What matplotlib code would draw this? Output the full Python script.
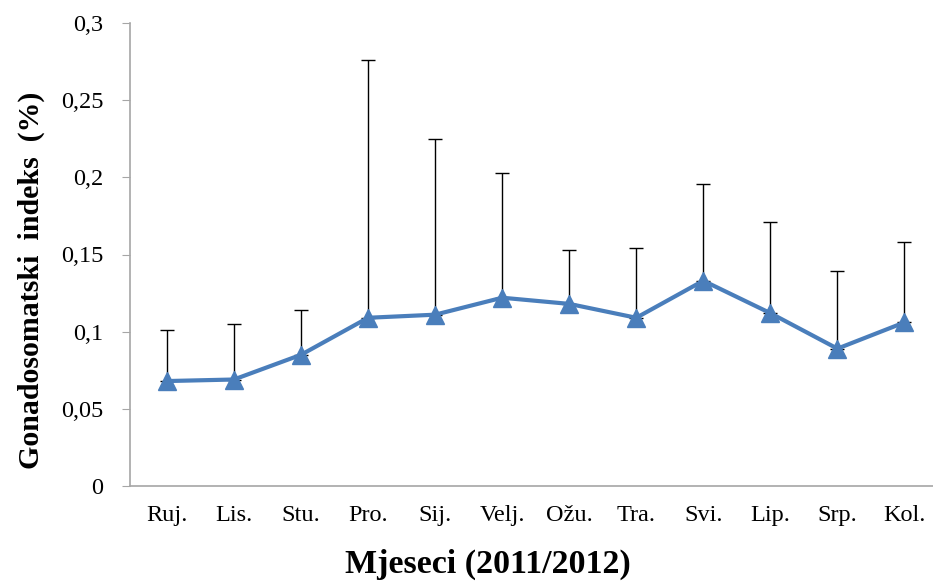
import matplotlib

matplotlib.use("Agg")
import matplotlib.pyplot as plt
import numpy as np

months = ["Ruj.", "Lis.", "Stu.", "Pro.", "Sij.", "Velj.", "Ožu.", "Tra.",
          "Svi.", "Lip.", "Srp.", "Kol."]
gsi_mean = [0.068, 0.069, 0.085, 0.109, 0.111, 0.122, 0.118, 0.109,
            0.133, 0.112, 0.089, 0.106]
gsi_top = [0.101, 0.105, 0.114, 0.276, 0.225, 0.203, 0.153, 0.154,
           0.196, 0.171, 0.139, 0.158]
yticks = [0, 0.05, 0.1, 0.15, 0.2, 0.25, 0.3]
ytick_labels = ["0", "0,05", "0,1", "0,15", "0,2", "0,25", "0,3"]

plt.rcParams["font.family"] = ["Liberation Serif", "DejaVu Serif"]

fig = plt.figure(figsize=(9.33, 5.81), dpi=100)
ax = fig.add_axes([130 / 933, 1 - 486 / 581, (938 - 130) / 933, (486 - 23) / 581])

x = np.arange(len(months))
mean = np.array(gsi_mean)
upper = np.array(gsi_top) - mean

ax.errorbar(x, mean, yerr=[np.zeros_like(upper), upper], fmt="none",
            ecolor="black", elinewidth=1.0, capsize=5, capthick=1.0, zorder=2)
ax.plot(x, mean, color="#4A7EBB", linewidth=3, marker="^", markersize=13,
        markerfacecolor="#4A7EBB", markeredgecolor="#4A7EBB", zorder=3)

ax.set_xlim(-0.55, 11.5)
ax.set_ylim(0, 0.3)
ax.set_yticks(yticks)
ax.set_yticklabels(ytick_labels)
ax.set_xticks(x)
ax.set_xticklabels(months)
ax.tick_params(axis="y", direction="out", length=6, color="#A6A6A6",
               labelsize=17.5, pad=13)
ax.tick_params(axis="x", length=0, labelsize=17.5, pad=14)

for side in ("top", "right"):
    ax.spines[side].set_visible(False)
for side in ("left", "bottom"):
    ax.spines[side].set_color("#A6A6A6")
    ax.spines[side].set_linewidth(1.2)

ax.set_xlabel("Mjeseci (2011/2012)", fontsize=24.5, fontweight="bold")
ax.xaxis.set_label_coords(0.443, -0.135)
ax.set_ylabel("Gonadosomatski  indeks  (%)", fontsize=21.5, fontweight="bold")
ax.yaxis.set_label_coords(-0.105, 0.445)

fig.savefig("out.png", dpi=100)
